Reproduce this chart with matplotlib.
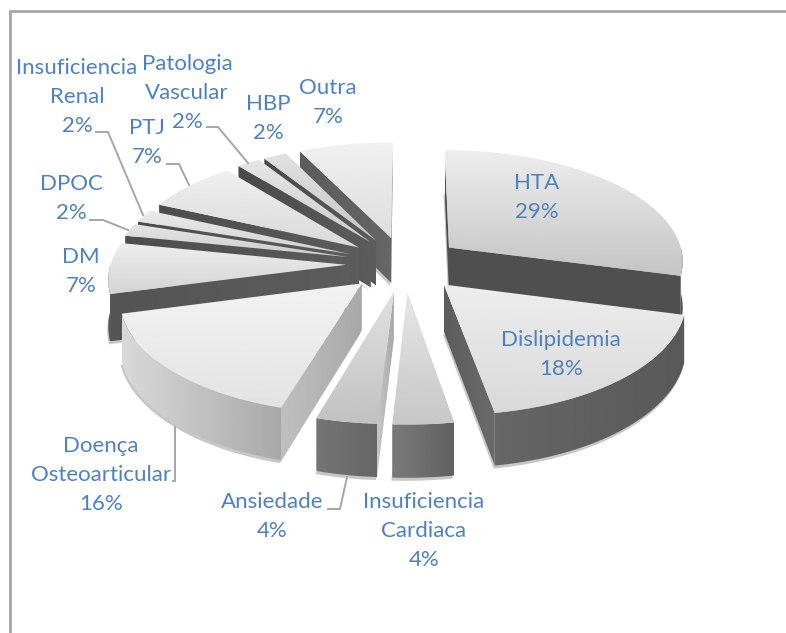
import numpy as np
import matplotlib
matplotlib.use('Agg')
import matplotlib.pyplot as plt
from matplotlib.patches import Polygon

categories = ['HTA', 'Dislipidemia', 'Insuficiencia\nCardiaca', 'Ansiedade', 'Doença\nOsteoarticular',
              'DM', 'DPOC', 'Insuficiencia\nRenal', 'PTJ', 'Patologia\nVascular', 'HBP', 'Outra']
# patient counts, the labels show them as rounded percentages
values = [16, 10, 2, 2, 9, 4, 1, 1, 4, 1, 1, 4]

# label centre of the first text line, pixels
label_x = [537, 561, 424, 272, 101, 81, 71, 77, 147, 187, 268, 328]
label_y = [183, 340, 502, 502, 446, 257, 184, 68, 128, 64, 104, 88]

# grey levels per slice: top face near/far end, wall left/right, cut face
top_back = [.93, .93, .90, .88, .95, .93, .90, .92, .94, .90, .88, .94]
top_front = [.77, .85, .78, .76, .89, .83, .80, .82, .85, .80, .78, .87]
wall_left = [.31, .40, .48, .46, .85, .35, .33, .33, .33, .33, .33, .33]
wall_right = [.31, .35, .38, .40, .66, .33, .33, .33, .33, .33, .33, .33]
cut_near = [.31, .36, .72, .78, .75, .33, .30, .30, .30, .29, .29, .36]
cut_far = [.31, .42, .62, .66, .66, .36, .36, .36, .36, .36, .36, .40]

# leader lines (x list, y list)
leaders = [([96, 108, 143], [132, 132, 215]),
           ([90, 103, 128], [220, 220, 230]),
           ([167, 179, 189], [164, 164, 185]),
           ([207, 218, 248], [127, 127, 163]),
           ([328, 340, 347], [509, 509, 477]),
           ([173, 175, 175], [481, 481, 427])]

CX, CY = 404, 264
SX, SY = 235.6, 111.5
PERSP = 0.109
EXPLODE = 0.245
DEPTH = 46
BLUE = '#4F81BD'
LINE = '#A6A6A6'

plt.rcParams['font.family'] = ['Lato', 'DejaVu Sans']
fig = plt.figure(figsize=(7.86, 6.33), dpi=100)
ax = fig.add_axes([0, 0, 1, 1])


def project(gx, gy, down=0.0):
    s = 1 / (1 + PERSP * gy)
    return CX + SX * gx * s, CY - SY * gy * s + down * s


def fill(pts, a, b, z, vertical=False):
    # polygon filled with a linear grey gradient, done with a clipped image
    pts = np.array(pts)
    x0, x1 = pts[:, 0].min(), pts[:, 0].max()
    y0, y1 = pts[:, 1].min(), pts[:, 1].max()
    grad = np.linspace(a, b, 64)
    grad = grad.reshape(-1, 1) if vertical else grad.reshape(1, -1)
    poly = Polygon(pts, closed=True, fc='none', ec='none', zorder=z)
    ax.add_patch(poly)
    im = ax.imshow(grad, cmap='gray', vmin=0, vmax=1, extent=(x0, x1, y1, y0),
                   origin='upper', aspect='auto', zorder=z, interpolation='bilinear')
    im.set_clip_path(poly)


def edge_visible(p, q, inside):
    # cut face shows when the slice body lies above the edge on screen
    dx, dy = q[0] - p[0], q[1] - p[1]
    side = dx * (inside[1] - p[1]) - dy * (inside[0] - p[0])
    below = dx * DEPTH
    return side * below < 0


fracs = np.array(values) / sum(values)
ends = np.cumsum(fracs) * 2 * np.pi
starts = ends - fracs * 2 * np.pi
mids = (starts + ends) / 2
order = np.argsort(-np.cos(mids))

z = 2
for i in order:
    ox, oy = EXPLODE * np.sin(mids[i]), EXPLODE * np.cos(mids[i])
    th = np.linspace(starts[i], ends[i], 80)
    gx = ox + np.sin(th)
    gy = oy + np.cos(th)
    apex_top = project(ox, oy)
    apex_bot = project(ox, oy, DEPTH)
    arc_top = [project(a, b) for a, b in zip(gx, gy)]
    arc_bot = [project(a, b, DEPTH) for a, b in zip(gx, gy)]

    # soft shadow under the slice
    shadow = [(x - 1, y + 3) for x, y in [apex_bot] + arc_bot]
    ax.add_patch(Polygon(shadow, closed=True, fc='#9A9A9A', ec='none', alpha=.55, zorder=z))
    z += 1

    inside = project(ox + .5 * np.sin(mids[i]), oy + .5 * np.cos(mids[i]))
    for p, pb in ((arc_top[0], arc_bot[0]), (arc_top[-1], arc_bot[-1])):
        if edge_visible(apex_top, p, inside):
            fill([apex_top, p, pb, apex_bot], cut_near[i], cut_far[i], z)
            z += 1

    front = np.cos(th) < 0
    if front.sum() > 1:
        t = [p for p, f in zip(arc_top, front) if f]
        b = [p for p, f in zip(arc_bot, front) if f]
        fill(t + b[::-1], wall_left[i], wall_right[i], z)
        z += 1

    fill([apex_top] + arc_top, top_back[i], top_front[i], z, vertical=True)
    z += 1

for xs, ys in leaders:
    ax.plot(xs, ys, color=LINE, lw=1.4, zorder=z, solid_joinstyle='miter')
z += 1

for name, frac, lx, ly in zip(categories, fracs, label_x, label_y):
    lines = name.split('\n') + [f'{frac * 100:.0f}%']
    for n, line in enumerate(lines):
        ax.text(lx, ly + n * 29, line, color=BLUE, fontsize=16, ha='center', va='center', zorder=z)

# chart frame, cropped at the right and bottom of the picture
ax.plot([10, 10, 786], [633, 11, 11], color=LINE, lw=2, zorder=1, solid_joinstyle='miter')

ax.set_xlim(0, 786)
ax.set_ylim(633, 0)
ax.axis('off')
fig.savefig('out.png', dpi=100)
